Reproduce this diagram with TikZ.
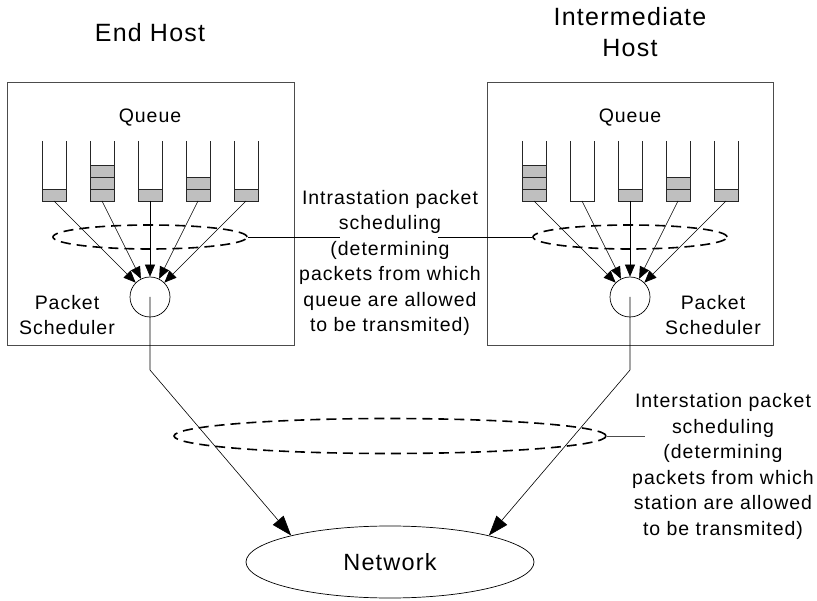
\documentclass[tikz,border=0pt]{standalone}
\usepackage{fontspec}
\setmainfont{Liberation Sans}[LetterSpace=5]
\usetikzlibrary{shapes.geometric,arrows.meta}
\begin{document}
\begin{tikzpicture}[x=1pt,y=-1pt,
  hostbox/.style={draw=black!70,line width=0.9pt},
  tube/.style={draw=black!85,line width=0.9pt},
  pkt/.style={draw=black!85,fill=black!25,line width=0.9pt},
  feed/.style={-{Triangle[length=12pt,width=10pt]},line width=0.6pt},
  tonet/.style={-{Triangle[length=20pt,width=14pt]},line width=0.6pt},
  sched/.style={circle,draw,minimum size=40pt,inner sep=0pt,line width=0.7pt},
  ring/.style={ellipse,draw,dash pattern=on 10pt off 6pt,line width=1.6pt,inner sep=0pt},
  plain/.style={line width=0.7pt},
  lbl/.style={font=\fontsize{19.5}{25.5}\selectfont,align=center,inner sep=0pt},
  title/.style={font=\fontsize{25}{31}\selectfont,align=center,inner sep=0pt},
]
\useasboundingbox (0,0) rectangle (817,601);

% host frames
\draw[hostbox] (7,82) rectangle (294,345);
\draw[hostbox] (487,82) rectangle (773,345);

% titles
\node[title] (tEnd) at (150,32.5) {End Host};
\node[title] (tInt) at (630,32) {Intermediate\\Host};

% queue labels
\node[lbl] (qlabL) at (150,118) {Queue};
\node[lbl] (qlabR) at (630,118) {Queue};

% packet schedulers
\node[sched] (schedL) at (150,297) {};
\node[sched] (schedR) at (630,297) {};
\node[lbl] (slabL) at (67,315) {Packet\\Scheduler};
\node[lbl] (slabR) at (713,315) {Packet\\Scheduler};

% intrastation rings
\node[ring,minimum width=194pt,minimum height=24pt] (ringL) at (150,237) {};
\node[ring,minimum width=194pt,minimum height=24pt] (ringR) at (630,237) {};

% queues of the end host: tube left edge / number of packets
\foreach \n/\x/\k in {1/42/1,2/90/3,3/138/1,4/186/2,5/234/1}{
  \foreach \j in {1,2,3}{
    \ifnum\j>\k\else
      \draw[pkt] (\x,{201-12*(\j-1)}) rectangle (\x+24,{201-12*\j});
    \fi
  }
  \draw[tube] (\x,141) -- (\x,201) -- (\x+24,201) -- (\x+24,141);
  \coordinate (L\n) at (\x+12,201);
  \draw[feed] (L\n) -- (schedL);
}

% queues of the intermediate host
\foreach \n/\x/\k in {1/522/3,2/570/0,3/618/1,4/666/2,5/714/1}{
  \foreach \j in {1,2,3}{
    \ifnum\j>\k\else
      \draw[pkt] (\x,{201-12*(\j-1)}) rectangle (\x+24,{201-12*\j});
    \fi
  }
  \draw[tube] (\x,141) -- (\x,201) -- (\x+24,201) -- (\x+24,141);
  \coordinate (R\n) at (\x+12,201);
  \draw[feed] (R\n) -- (schedR);
}

% intrastation scheduling note
\node[lbl] (intra) at (390,263) {Intrastation packet\\scheduling\\(determining\\packets from which\\queue are allowed\\to be transmited)};
\coordinate (gapL) at (340,237);
\coordinate (gapR) at (438,237);
\draw[plain] (ringL.east) -- (gapL);
\draw[plain] (gapR) -- (ringR.west);

% network
\node[ellipse,draw,line width=0.7pt,minimum width=288pt,minimum height=72pt,inner sep=0pt,
      font=\fontsize{23.5}{27}\selectfont] (net) at (390,562) {Network};

% interstation ring
\node[ring,minimum width=432pt,minimum height=35pt] (ringN) at (390,436) {};

% links towards the network
\coordinate (bendL) at (150,370);
\coordinate (bendR) at (630,370);
\draw[tonet] (schedL.center) -- (bendL) -- (net.165);
\draw[tonet] (schedR.center) -- (bendR) -- (net.15);

% interstation scheduling note
\node[lbl] (inter) at (723,466.5) {Interstation packet\\scheduling\\(determining\\packets from which\\station are allowed\\to be transmited)};
\coordinate (noteN) at (645,436);
\draw[plain,draw=black!70] (ringN.east) -- (noteN);
\end{tikzpicture}
\end{document}
